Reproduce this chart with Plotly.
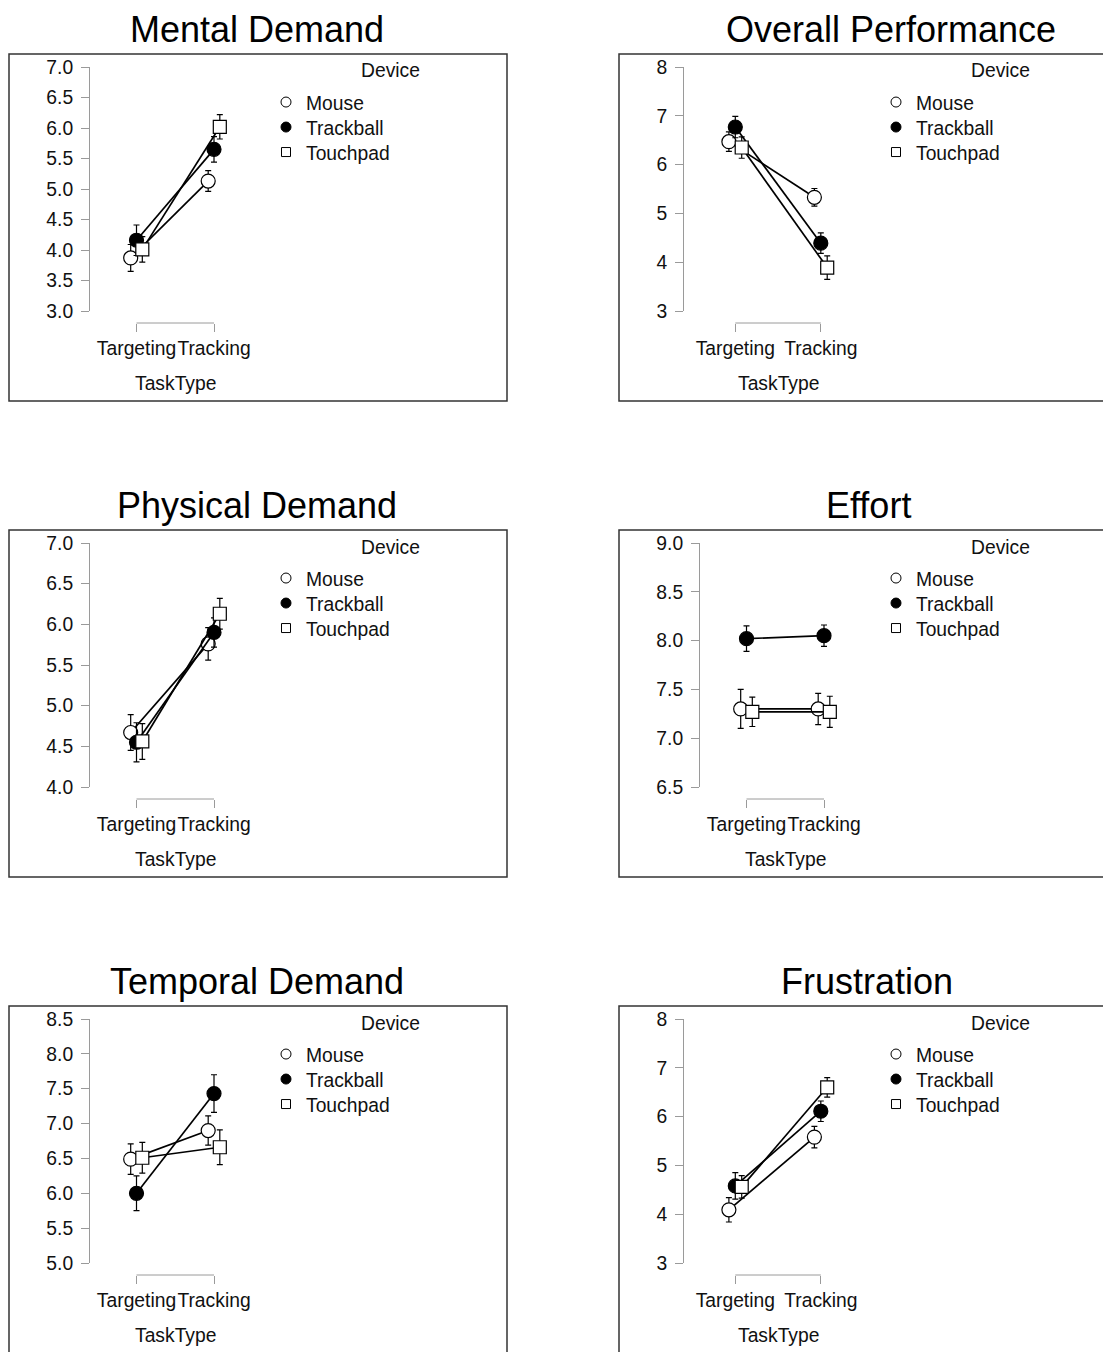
import plotly.graph_objects as go

W, H = 1111, 1352

# ---------------- data ----------------
task_types = ["Targeting", "Tracking"]
devices = ["Mouse", "Trackball", "Touchpad"]
titles = ["Mental Demand", "Overall Performance", "Physical Demand",
          "Effort", "Temporal Demand", "Frustration"]

# means per device: [Targeting, Tracking]  (order: Mouse, Trackball, Touchpad)
mental_mean = [[3.87, 5.13], [4.16, 5.65], [4.01, 6.02]]
mental_se = [[0.22, 0.17], [0.25, 0.21], [0.21, 0.20]]

overall_mean = [[6.47, 5.33], [6.77, 4.39], [6.35, 3.89]]
overall_se = [[0.20, 0.18], [0.22, 0.21], [0.22, 0.24]]

physical_mean = [[4.67, 5.76], [4.55, 5.90], [4.56, 6.13]]
physical_se = [[0.22, 0.20], [0.24, 0.18], [0.22, 0.19]]

effort_mean = [[7.30, 7.30], [8.02, 8.05], [7.27, 7.27]]
effort_se = [[0.20, 0.16], [0.13, 0.11], [0.15, 0.16]]

temporal_mean = [[6.49, 6.90], [6.00, 7.43], [6.51, 6.66]]
temporal_se = [[0.22, 0.21], [0.25, 0.27], [0.22, 0.25]]

frustration_mean = [[4.09, 5.58], [4.58, 6.11], [4.56, 6.60]]
frustration_se = [[0.25, 0.22], [0.27, 0.21], [0.23, 0.20]]

mental_ticks = [3.0, 3.5, 4.0, 4.5, 5.0, 5.5, 6.0, 6.5, 7.0]
overall_ticks = [3, 4, 5, 6, 7, 8]
physical_ticks = [4.0, 4.5, 5.0, 5.5, 6.0, 6.5, 7.0]
effort_ticks = [6.5, 7.0, 7.5, 8.0, 8.5, 9.0]
temporal_ticks = [5.0, 5.5, 6.0, 6.5, 7.0, 7.5, 8.0, 8.5]
frustration_ticks = [3, 4, 5, 6, 7, 8]

means = [mental_mean, overall_mean, physical_mean, effort_mean, temporal_mean, frustration_mean]
ses = [mental_se, overall_se, physical_se, effort_se, temporal_se, frustration_se]
ticks = [mental_ticks, overall_ticks, physical_ticks, effort_ticks, temporal_ticks, frustration_ticks]
tick_fmt = ["{:.1f}", "{:.0f}", "{:.1f}", "{:.1f}", "{:.1f}", "{:.0f}"]

# ---------------- styling ----------------
FONT = "Liberation Sans, Arial, Helvetica, sans-serif"
GREY = "#9a9a9a"
FS = 19.3          # small text size
dodge = [-0.075, 0.0, 0.075]
marker_symbol = ["circle", "circle", "square"]
marker_fill = ["white", "black", "white"]
marker_size = [14, 14, 13]

axis_px = [90, 684, 90, 700, 90, 684]
title_px = [257, 891, 257, 868, 257, 867]

OFF = 8  # page body margin in the browser


def px(p):
    return (p - OFF) / W


def py(p):
    return 1 - (p - OFF) / H


fig = go.Figure()
layout = dict(
    width=W, height=H,
    margin=dict(l=0, r=0, t=0, b=0, pad=0, autoexpand=False),
    autosize=False,
    paper_bgcolor="white", plot_bgcolor="white",
    font=dict(family=FONT, size=FS, color="#111"),
    annotations=[], shapes=[],
)

leg_count = 0
for i in range(6):
    row, col = divmod(i, 2)
    dy, dx = 476 * row, 610 * col
    n = "" if i == 0 else str(i + 1)
    xa, ya = "x" + n, "y" + n

    for d in range(3):
        fig.add_trace(go.Scatter(
            x=[k + 1 + dodge[d] for k in range(len(task_types))],
            y=means[i][d],
            error_y=dict(type="data", array=ses[i][d], color="black",
                         thickness=1.2, width=3),
            mode="lines+markers",
            line=dict(color="black", width=1.7),
            marker=dict(symbol=marker_symbol[d], size=marker_size[d],
                        color=marker_fill[d], line=dict(color="black", width=1.2)),
            name=devices[d], showlegend=False, cliponaxis=False,
            xaxis=xa, yaxis=ya,
        ))
    # legend: one legend box per entry so the row spacing matches exactly
    for d in range(3):
        leg_count += 1
        leg = "legend" if leg_count == 1 else "legend" + str(leg_count)
        fig.add_trace(go.Scatter(
            x=[None], y=[None], mode="markers",
            marker=dict(symbol=marker_symbol[d], size=10 if d < 2 else 9,
                        color=marker_fill[d], line=dict(color="black", width=1)),
            name=devices[d], showlegend=True, legend=leg,
            xaxis=xa, yaxis=ya,
        ))
        layout[leg] = dict(
            x=px(266 + dx), y=py(83 + 25 * d + dy), xanchor="left", yanchor="top",
            bgcolor="rgba(0,0,0,0)", borderwidth=0, itemsizing="trace",
            font=dict(size=FS, color="#111", family=FONT), tracegroupgap=0,
        )

    lo, hi = ticks[i][0], ticks[i][-1]
    layout["xaxis" + n] = dict(
        domain=[px(axis_px[i]), px(245 + dx)], range=[0.4, 2.4],
        anchor="free", position=py(323 + dy),
        tickmode="array", tickvals=[1, 2], ticktext=task_types, tickangle=0,
        ticks="outside", ticklen=8, tickcolor=GREY, tickwidth=1,
        showline=False, showgrid=False, zeroline=False, automargin=False,
        tickfont=dict(size=FS, color="#111", family=FONT),
        fixedrange=True,
    )
    layout["yaxis" + n] = dict(
        domain=[py(311 + dy), py(67 + dy)], range=[lo, hi], anchor=xa,
        tickmode="array", tickvals=ticks[i],
        ticktext=[tick_fmt[i].format(t) for t in ticks[i]],
        ticks="outside", ticklen=8, tickcolor=GREY, tickwidth=1,
        ticklabelstandoff=4,
        showline=True, linecolor=GREY, linewidth=1, automargin=False,
        showgrid=False, zeroline=False,
        tickfont=dict(size=FS, color="#111", family=FONT),
        fixedrange=True,
    )

    # x-axis bracket line between the two categories
    layout["shapes"].append(dict(
        type="line", xref=xa, yref="paper", x0=1, x1=2,
        y0=py(323 + dy), y1=py(323 + dy), line=dict(color=GREY, width=1)))
    # panel frame
    layout["shapes"].append(dict(
        type="rect", xref="paper", yref="paper",
        x0=px(9 + dx), x1=px(507 + dx + (20 if col == 1 else 0)),
        y0=py(401 + dy + (20 if row == 2 else 0)), y1=py(54 + dy),
        line=dict(color="#333", width=1.5)))

    layout["annotations"].append(dict(
        text=titles[i], xref="paper", yref="paper", x=px(title_px[i]), y=py(OFF + dy),
        xanchor="center", yanchor="top", showarrow=False, borderpad=0,
        font=dict(size=36, color="black", family=FONT)))
    layout["annotations"].append(dict(
        text="TaskType", xref=xa, yref="paper", x=1.5, y=py(383 + dy),
        xanchor="center", yanchor="middle", showarrow=False,
        font=dict(size=FS, color="#111", family=FONT)))
    layout["annotations"].append(dict(
        text="Device", xref="paper", yref="paper", x=px(390 + dx), y=py(71 + dy),
        xanchor="center", yanchor="middle", showarrow=False,
        font=dict(size=FS, color="#111", family=FONT)))

fig.update_layout(**layout)
fig.write_html("out.html")
